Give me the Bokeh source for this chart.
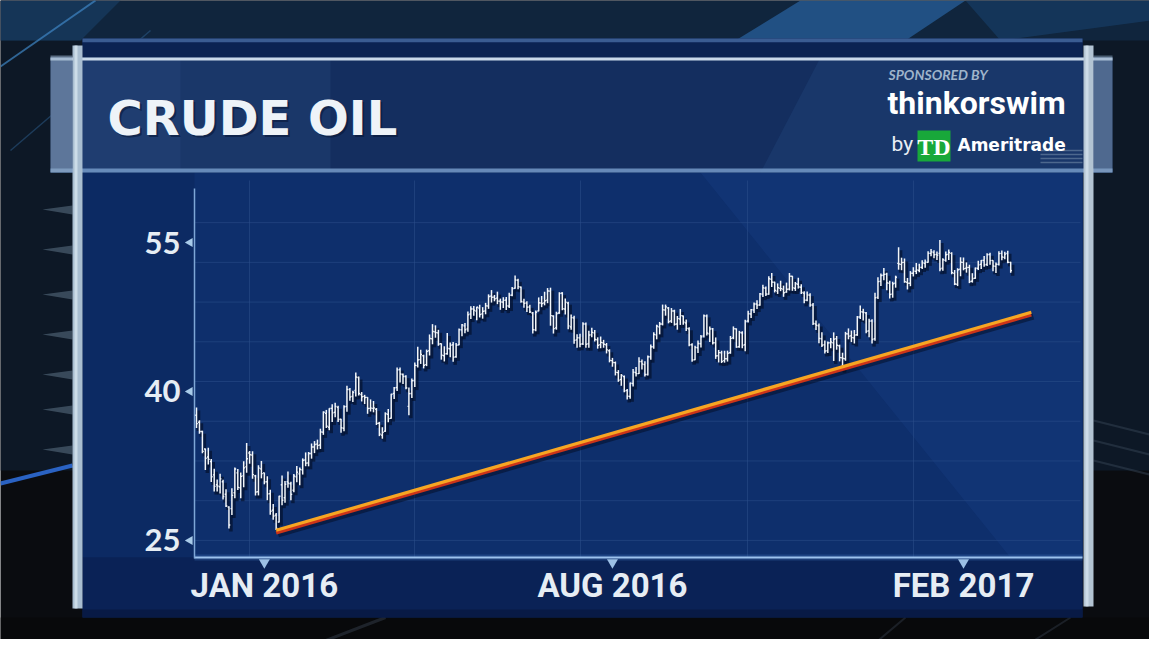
import math
from bokeh.plotting import figure
from bokeh.models import Range1d, LinearAxis, FixedTicker, ColumnDataSource
from bokeh.core.properties import value
from bokeh.embed import file_html
from bokeh.resources import INLINE

# ---------------- data (daily WTI bars) ----------------
opens = [
    37.60, 36.90, 35.97, 34.20, 33.40, 32.94, 31.60, 30.60, 30.40, 30.90, 29.65, 28.35, 28.20, 29.80, 31.80, 30.30, 31.50, 32.40, 33.80,
    33.60, 31.50, 29.90, 32.20, 31.80, 30.90, 29.70, 28.05, 27.55, 26.85, 30.60, 29.30, 30.90, 30.70, 30.05, 31.40, 31.70, 32.10, 33.10, 32.80,
    33.75, 34.40, 34.70, 34.60, 35.90, 37.80, 36.40, 38.30, 37.90, 38.40, 37.20, 36.30, 38.50, 40.20, 39.50, 40.10, 41.40, 39.70, 39.50, 39.40, 38.30, 38.30,
    38.20, 36.80, 35.60, 36.00, 37.70, 37.30, 39.80, 40.40, 42.20, 41.70, 41.50, 38.50, 39.80, 41.10, 42.60, 43.20, 43.60, 42.70, 44.10, 45.30, 46.00,
    45.90, 44.80, 43.60, 43.80, 44.30, 44.70, 43.50, 44.70, 46.20, 46.60, 46.30, 47.80, 48.30, 48.10, 48.40, 47.80, 48.10, 48.60, 49.60, 49.50, 49.40,
    49.10, 49.00, 49.20, 48.60, 49.70, 50.40, 51.20, 50.50, 49.00, 48.90, 48.50, 47.90, 46.20, 48.10, 48.90, 48.90, 49.20, 50.10, 47.60, 46.40, 47.90, 49.90,
    48.30, 48.90, 46.50, 47.40, 45.20, 45.40, 44.80, 46.80, 44.80, 45.70, 45.90, 45.20, 44.70, 44.90, 44.70, 44.10, 43.10, 42.90, 41.90, 41.20,
    41.50, 40.10, 39.50, 40.80, 41.90, 41.80, 43.00, 42.70, 41.70, 43.50, 44.50, 45.70, 46.50, 46.80, 48.20, 48.40, 47.10, 48.10, 46.80, 47.30, 47.60, 46.90, 46.30,
    44.70, 43.20, 44.40, 44.80, 45.60, 47.60, 45.80, 46.30, 44.90, 43.60, 43.90, 43.10, 43.30, 43.90, 45.40, 46.30, 44.50, 45.90, 44.70, 47.10, 47.80,
    48.20, 48.80, 48.70, 49.80, 50.40, 49.80, 51.30, 51.00, 50.10, 50.40, 50.30, 50.00, 50.30, 51.60, 50.40, 50.80, 50.50, 49.90, 49.20, 49.70, 48.70,
    46.80, 46.60, 45.30, 44.70, 44.10, 44.90, 44.90, 45.30, 44.60, 43.40, 43.30, 45.80, 45.60, 45.40, 45.70, 47.50, 48.00, 47.90, 46.10, 47.10, 45.30,
    49.50, 51.10, 51.70, 51.80, 50.90, 49.80, 50.90, 52.90, 52.80, 53.00, 51.00, 50.90, 51.90, 52.10, 52.20, 52.50, 52.90, 53.00, 53.90, 54.00, 53.80,
    53.90, 52.40, 53.20, 53.80, 53.90, 51.90, 50.80, 52.30, 53.00, 52.40, 52.50, 51.10, 51.40, 52.40, 52.80, 53.20, 52.80, 53.80, 53.20, 52.60,
    52.80, 53.90, 53.50, 53.90, 53.00,
]
highs = [
    38.39, 37.10, 36.04, 34.26, 34.34, 33.20, 32.21, 31.14, 31.70, 31.10, 30.15, 28.45, 30.25, 32.35, 32.19, 31.84, 32.98, 34.82, 34.00,
    33.97, 31.60, 32.57, 33.00, 31.83, 31.46, 30.10, 28.67, 27.75, 29.50, 31.53, 30.98, 31.93, 30.90, 31.68, 32.50, 32.35, 33.26, 33.86, 33.90,
    34.76, 35.00, 35.15, 36.25, 38.00, 38.14, 38.32, 38.70, 38.87, 38.56, 37.24, 38.60, 40.57, 40.35, 40.06, 41.90, 41.50, 39.94, 39.66, 39.42, 39.20, 39.04,
    38.33, 36.94, 36.40, 37.90, 38.24, 39.76, 40.46, 42.40, 42.41, 41.82, 41.64, 40.40, 41.30, 42.91, 44.49, 44.20, 43.70, 44.22, 45.74, 46.78, 46.66,
    46.21, 44.84, 44.55, 45.88, 44.93, 44.97, 44.88, 46.33, 46.80, 46.89, 48.04, 48.59, 48.60, 48.54, 48.73, 48.49, 48.92, 49.78, 50.21, 49.72, 50.05,
    49.35, 49.49, 49.52, 49.93, 50.53, 51.67, 51.34, 50.57, 49.33, 49.08, 48.72, 48.01, 48.15, 49.47, 49.61, 50.04, 50.41, 50.45, 47.66, 48.03, 49.99, 50.00,
    49.35, 49.04, 47.75, 47.63, 45.75, 45.80, 46.96, 46.95, 46.12, 46.41, 46.20, 45.45, 45.53, 45.20, 44.88, 44.25, 43.38, 43.02, 42.15, 41.75,
    41.60, 40.25, 40.90, 42.25, 42.46, 43.45, 43.22, 43.05, 43.62, 44.72, 45.96, 46.72, 47.00, 48.75, 48.75, 48.50, 48.40, 48.23, 47.60, 48.30, 47.66, 47.25, 46.46,
    44.85, 44.61, 45.14, 45.68, 47.75, 47.76, 46.55, 46.38, 45.44, 44.18, 44.10, 44.10, 44.11, 45.59, 46.55, 46.35, 46.10, 46.06, 47.21, 48.12, 48.30,
    48.95, 49.18, 49.91, 50.74, 50.57, 51.60, 51.93, 51.05, 50.88, 51.15, 50.66, 50.96, 51.93, 51.64, 51.03, 51.45, 50.79, 50.08, 50.07, 49.90, 48.90,
    47.14, 46.84, 45.95, 45.14, 45.02, 45.39, 45.95, 45.59, 44.71, 43.90, 46.00, 46.35, 46.13, 46.19, 47.60, 48.65, 48.33, 48.00, 47.32, 47.26, 49.93,
    51.50, 51.87, 52.42, 51.95, 51.15, 51.05, 51.66, 54.51, 53.47, 53.39, 51.43, 52.12, 52.51, 52.94, 52.86, 53.20, 53.29, 54.12, 54.35, 54.21, 54.09,
    55.24, 53.42, 54.09, 54.30, 54.03, 52.23, 52.41, 53.51, 53.49, 53.00, 52.76, 51.91, 52.48, 53.15, 53.24, 53.63, 53.93, 53.96, 53.22, 52.98,
    54.13, 54.20, 54.06, 54.16, 53.06,
]
lows = [
    36.33, 35.74, 33.77, 32.10, 32.65, 30.88, 29.93, 29.93, 29.73, 29.13, 28.36, 26.19, 27.56, 29.25, 30.07, 29.25, 30.36, 31.81, 32.72,
    31.20, 29.52, 29.53, 31.25, 30.65, 29.05, 27.58, 27.08, 26.05, 26.80, 28.55, 28.80, 30.31, 29.05, 29.85, 30.86, 30.56, 31.63, 32.47, 32.46,
    33.23, 33.79, 34.16, 34.21, 35.63, 36.32, 36.10, 36.92, 37.40, 36.92, 35.84, 35.98, 37.96, 39.06, 38.95, 39.50, 39.60, 38.99, 38.73, 37.75, 37.98, 37.90,
    36.62, 35.50, 35.24, 35.93, 36.91, 37.26, 39.25, 40.04, 40.91, 40.75, 40.22, 37.61, 39.34, 40.44, 42.40, 42.77, 42.32, 42.55, 43.62, 44.75, 45.41,
    44.60, 43.20, 43.02, 43.70, 43.45, 42.98, 43.39, 44.66, 45.55, 45.85, 46.01, 47.29, 47.62, 47.16, 47.45, 47.33, 47.77, 48.32, 48.95, 49.08, 48.79,
    48.22, 48.40, 48.19, 48.40, 49.58, 50.35, 50.29, 48.93, 48.43, 47.99, 47.90, 45.83, 46.06, 48.07, 48.49, 48.67, 48.89, 46.62, 45.83, 46.22, 47.82, 48.18,
    47.75, 46.26, 46.21, 44.80, 44.40, 44.45, 44.68, 44.41, 44.40, 45.46, 45.02, 44.31, 44.35, 44.40, 43.83, 42.93, 42.49, 41.61, 40.97, 40.57,
    39.92, 39.19, 39.26, 40.50, 41.50, 41.75, 42.21, 41.50, 41.60, 43.20, 44.30, 45.25, 45.75, 46.65, 47.63, 46.86, 46.90, 46.63, 46.22, 46.70, 46.72, 46.08, 44.56,
    43.00, 43.13, 43.87, 44.42, 45.44, 45.64, 44.97, 44.73, 43.28, 42.92, 42.86, 42.90, 43.01, 43.80, 45.26, 44.40, 44.40, 44.35, 44.05, 46.95, 47.40,
    47.90, 48.30, 48.64, 49.50, 49.61, 49.75, 50.52, 49.97, 49.82, 50.10, 49.53, 49.94, 50.17, 50.13, 50.12, 50.36, 49.81, 48.87, 49.08, 48.53, 46.68,
    46.20, 44.86, 44.48, 43.83, 43.87, 44.36, 43.07, 44.20, 43.03, 42.20, 43.09, 45.25, 44.97, 44.83, 45.60, 47.30, 47.15, 45.85, 45.46, 44.82, 45.10,
    49.30, 50.62, 51.20, 50.20, 49.37, 49.44, 50.45, 52.26, 52.21, 50.95, 50.27, 50.60, 51.58, 51.82, 52.01, 52.33, 52.46, 52.95, 53.61, 53.42, 53.24,
    52.11, 52.15, 53.07, 53.23, 51.80, 50.71, 50.61, 51.60, 52.20, 51.96, 50.91, 50.96, 51.34, 52.22, 52.33, 52.56, 52.63, 52.75, 52.10, 51.93,
    52.68, 53.22, 53.31, 52.90, 51.95,
]
closes = [
    36.76, 35.97, 33.97, 33.27, 33.16, 31.41, 30.44, 30.48, 31.20, 29.42, 28.46, 26.55, 29.53, 32.19, 30.34, 31.45, 32.30, 33.22, 33.62,
    31.62, 29.88, 32.28, 31.72, 30.89, 29.69, 27.94, 27.45, 26.21, 29.44, 29.04, 30.66, 30.77, 29.64, 31.48, 31.87, 32.15, 33.07, 32.78, 33.75,
    34.40, 34.66, 34.57, 35.92, 37.90, 36.50, 38.29, 37.84, 38.50, 37.18, 36.34, 38.46, 40.20, 39.44, 39.91, 41.45, 39.79, 39.46, 39.39, 38.28, 38.32, 38.34,
    36.79, 35.70, 35.89, 37.75, 37.26, 39.72, 40.36, 42.17, 41.76, 41.50, 40.36, 39.78, 41.08, 42.63, 43.18, 43.73, 42.64, 44.04, 45.33, 46.03, 45.92,
    44.78, 43.65, 43.78, 44.32, 44.66, 43.44, 44.66, 46.23, 46.70, 46.21, 47.72, 48.31, 48.19, 48.49, 47.75, 48.08, 48.62, 49.56, 49.48, 49.33, 49.10,
    49.01, 49.17, 48.62, 49.69, 50.36, 51.23, 50.56, 49.07, 48.88, 48.49, 48.01, 46.21, 47.98, 48.92, 48.85, 49.13, 50.11, 47.64, 46.33, 47.85, 49.88, 48.33,
    48.99, 46.60, 47.43, 45.14, 45.41, 44.76, 46.80, 44.75, 45.68, 45.95, 45.24, 44.65, 44.94, 44.75, 44.19, 43.13, 42.92, 41.92, 41.14, 41.60,
    40.06, 39.51, 40.83, 41.93, 41.80, 43.02, 42.77, 41.71, 43.49, 44.49, 45.74, 46.58, 46.79, 48.22, 48.52, 47.05, 48.10, 46.77, 47.33, 47.64, 46.98, 46.35, 44.70,
    43.16, 44.44, 44.83, 45.50, 47.62, 45.88, 46.29, 44.90, 43.58, 43.91, 43.03, 43.30, 43.85, 45.34, 46.32, 44.48, 45.93, 44.67, 47.05, 47.83, 48.24,
    48.81, 48.69, 49.83, 50.44, 49.81, 51.35, 51.01, 50.18, 50.44, 50.35, 49.94, 50.29, 51.60, 50.43, 50.85, 50.52, 49.96, 49.18, 49.72, 48.70, 46.86,
    46.67, 45.34, 44.66, 44.07, 44.89, 44.98, 45.27, 44.66, 43.41, 43.32, 45.81, 45.57, 45.42, 45.69, 47.49, 48.03, 47.96, 46.06, 47.08, 45.23, 49.44,
    51.06, 51.68, 51.79, 50.93, 49.77, 50.84, 51.50, 52.83, 52.98, 51.04, 50.90, 51.90, 52.12, 52.23, 52.49, 52.95, 53.02, 53.90, 54.06, 53.77, 53.72,
    52.33, 53.26, 53.76, 53.99, 51.96, 50.82, 52.25, 53.01, 52.37, 52.48, 51.08, 51.37, 52.42, 52.75, 53.18, 52.75, 53.78, 53.17, 52.63, 52.81,
    53.88, 53.54, 53.83, 53.01, 52.17,
]
y_ticks = [25, 40, 55]
x_ticks = [23, 141, 260]                      # bar index under each date tick
x_tick_labels = ["JAN 2016", "AUG 2016", "FEB 2017"]
trend_idx = [27, 283]
trend_price = [25.9, 47.85]
grid_prices = [25, 29, 33, 37, 41, 45, 49, 53, 57]

assert len(opens) == len(highs) == len(lows) == len(closes)

# ---------------- geometry (reference pixels) ----------------
W, H = 1149, 639
OFF = 0                         # canvas px 0 == reference px 0
X_BAR0, X_STEP = 196.0, 2.95    # x of first bar, px per bar
Y_55, Y_PER = 242.0, 9.93       # y of price 55, px per dollar


def px_to_idx(px):
    return (px - X_BAR0) / X_STEP


def py_to_price(py):
    return 55 - (py - Y_55) / Y_PER


def idx_range(dx=0):
    return Range1d(px_to_idx(OFF - dx), px_to_idx(OFF + W - dx))


def price_range(dy=0):
    return Range1d(py_to_price(OFF + H - dy), py_to_price(OFF - dy))


p = figure(width=W, height=H, x_range=Range1d(OFF, OFF + W), y_range=Range1d(OFF + H, OFF),
           x_axis_type=None, y_axis_type=None, toolbar_location=None,
           output_backend="svg", min_border=0)
p.outline_line_color = None
p.background_fill_color = "#0a0c10"
p.border_fill_color = "#0a0c10"
p.extra_x_ranges = {"idx": idx_range(), "idx_sh": idx_range(2)}
p.extra_y_ranges = {"price": price_range(), "price_sh": price_range(3),
                    "price_up": price_range(-1.2), "price_dn": price_range(1.3)}


def rect(x0, y0, x1, y1, color, alpha=1.0):
    p.quad(left=[x0], right=[x1], top=[y0], bottom=[y1], fill_color=color,
           fill_alpha=alpha, line_color=None)


def poly(xs, ys, color, alpha=1.0):
    p.patch(xs, ys, fill_color=color, fill_alpha=alpha, line_color=None)


def ln(xs, ys, color, width=1.0, alpha=1.0):
    p.line(xs, ys, line_color=color, line_width=width, line_alpha=alpha)


# ---------------- studio background ----------------
rect(0, 0, 1165, 470, "#0d1826")
rect(0, 0, 1165, 40, "#10253d")
poly([800, 965, 905, 735], [0, 0, 40, 40], "#24588f", 0.85)
poly([965, 1165, 1165, 1000], [0, 0, 18, 40], "#15375c", 0.9)
poly([0, 120, 80, 0], [0, 0, 40, 40], "#173a5e", 0.8)
ln([0, 95], [66, 0], "#3f86c4", 2, 0.7)
ln([10, 150], [150, 30], "#2d5f8f", 1.5, 0.5)
for fy in [205, 245, 290, 330, 370, 405, 445]:
    poly([72, 42, 72], [fy, fy + 4, fy + 9], "#5d7285", 0.55)
ln([0, 72], [483, 465], "#2e6bd6", 4, 0.9)
for ry in [420, 440, 460]:
    ln([1093, 1165], [ry, ry + 18], "#3a4a5c", 2, 0.45)
rect(0, 617, 1165, 655, "#08090b")
ln([320, 385], [642, 617], "#3a4452", 3, 0.45)
ln([860, 905], [655, 617], "#3a4452", 2, 0.4)
ln([1010, 1070], [655, 617], "#3a4452", 2, 0.4)

# ---------------- main panel ----------------
rect(82, 38, 1082, 617, "#0a2257")
rect(82, 38, 1082, 42, "#3a5c92")
rect(82, 42, 1082, 57, "#0b2352")
rect(82, 172, 1082, 557, "#0c2a63")
rect(194, 172, 1082, 557, "#0e2f6c")
poly([700, 1082, 1082, 1010], [172, 172, 557, 557], "#133677", 0.8)
rect(82, 557, 1082, 609, "#0a2256")
rect(82, 609, 1082, 617, "#081a45")

# title bar
rect(50, 57, 1112, 172, "#142e5f")
rect(82, 57, 330, 172, "#2a4c82", 0.3)
rect(82, 57, 180, 172, "#2a4c82", 0.3)
poly([760, 820, 1082, 1082], [172, 57, 57, 172], "#1d3f76", 0.5)
rect(50, 57, 1112, 60, "#c9d9ea")
rect(50, 168, 1112, 172, "#6f93c2", 0.9)
# glass caps and pillars
rect(50, 55, 72, 172, "#8da6c2", 0.6)
rect(72, 45, 82, 608, "#a9bed1")
rect(74, 45, 77, 608, "#d5e3ee", 0.8)
rect(1093, 55, 1112, 172, "#8aa3bf", 0.5)
rect(1083, 45, 1093, 606, "#b3c4d3")
rect(1085, 45, 1088, 606, "#d8e5ef", 0.7)
for sy in [150, 154, 158, 162]:
    ln([1040, 1082], [sy, sy], "#8ea4bb", 1.5, 0.45)

# ---------------- grid ----------------
p.segment(x0=[px_to_idx(194)] * len(grid_prices), y0=grid_prices,
          x1=[px_to_idx(1080)] * len(grid_prices), y1=grid_prices,
          x_range_name="idx", y_range_name="price",
          line_color="#2b4f8a", line_alpha=0.55, line_width=1)
for gx in [249, 414, 580, 747, 913]:
    ln([gx, gx], [180, 557], "#2b4f8a", 1, 0.55)

# axis glow
rect(194, 554, 1082, 560, "#3d6db3", 0.35)

# ---------------- bars ----------------
idx = list(range(len(closes)))
src = ColumnDataSource(dict(i=idx, o=opens, h=highs, l=lows, c=closes,
                            il=[k - 0.45 for k in idx], ir=[k + 0.45 for k in idx]))
p.segment(x0="i", y0="l", x1="i", y1="h", source=src, x_range_name="idx_sh",
          y_range_name="price_sh", line_color="#020b22", line_alpha=0.6, line_width=3.5)
p.segment(x0="i", y0="l", x1="i", y1="h", source=src, x_range_name="idx",
          y_range_name="price", line_color="#f2f6fa", line_width=1.5)
p.segment(x0="il", y0="o", x1="i", y1="o", source=src, x_range_name="idx",
          y_range_name="price", line_color="#f2f6fa", line_width=1.4)
p.segment(x0="i", y0="c", x1="ir", y1="c", source=src, x_range_name="idx",
          y_range_name="price", line_color="#f2f6fa", line_width=1.4)

# ---------------- trend line ----------------
p.line(trend_idx, trend_price, x_range_name="idx_sh", y_range_name="price_sh",
       line_color="#020b22", line_alpha=0.5, line_width=6)
p.line(trend_idx, trend_price, x_range_name="idx", y_range_name="price_dn",
       line_color="#cc3419", line_width=3.4)
p.line(trend_idx, trend_price, x_range_name="idx", y_range_name="price_up",
       line_color="#f7a623", line_width=3.2)

# ---------------- axes ----------------
yax = LinearAxis(x_range_name="idx", y_range_name="price",
                 fixed_location=px_to_idx(194),
                 bounds=(py_to_price(558), py_to_price(188)),
                 ticker=FixedTicker(ticks=y_ticks),
                 major_tick_out=0, major_tick_in=0, minor_tick_out=0, minor_tick_in=0,
                 axis_line_color="#7ea6d6", axis_line_width=1.5,
                 major_label_standoff=14,
                 major_label_text_font="Lato", major_label_text_font_style="bold",
                 major_label_text_font_size="31px", major_label_text_color="#e6edf4")
p.add_layout(yax, "left")

xax = LinearAxis(x_range_name="idx", y_range_name="price",
                 fixed_location=py_to_price(557),
                 bounds=(px_to_idx(194), px_to_idx(1082)),
                 ticker=FixedTicker(ticks=x_ticks),
                 major_label_overrides={t: s for t, s in zip(x_ticks, x_tick_labels)},
                 major_tick_out=0, major_tick_in=0, minor_tick_out=0, minor_tick_in=0,
                 axis_line_color="#9cc2ee", axis_line_width=2,
                 major_label_standoff=8,
                 major_label_text_font="Roboto", major_label_text_font_style="bold",
                 major_label_text_font_size="33px", major_label_text_color="#e6edf4")
p.add_layout(xax, "below")

p.scatter(x=[px_to_idx(189.5)] * len(y_ticks), y=y_ticks, marker="triangle",
          angle=math.pi / 2, size=9, fill_color="#a8cbe9", line_color=None,
          x_range_name="idx", y_range_name="price")
p.scatter(x=x_ticks, y=[py_to_price(562)] * len(x_ticks), marker="inverted_triangle",
          size=11, fill_color="#9cc0e6", line_color=None,
          x_range_name="idx", y_range_name="price")

# ---------------- texts (y = visual centre of the glyphs) ----------------
p.text(x=[109], y=[119], text=["CRUDE OIL"], text_font=value("DejaVu Sans"),
       text_font_style="bold", text_font_size="48px", text_color="#061433",
       text_alpha=0.55, text_baseline="alphabetic")
p.text(x=[107], y=[117], text=["CRUDE OIL"], text_font=value("DejaVu Sans"),
       text_font_style="bold", text_font_size="48px", text_color="#eef3f8",
       text_baseline="alphabetic")
p.text(x=[888], y=[74], text=["SPONSORED BY"], text_font=value("Lato"),
       text_font_style="bold italic", text_font_size="14px", text_color="#9fb4cb",
       text_baseline="alphabetic")
p.text(x=[887], y=[102], text=["thinkorswim"], text_font=value("Roboto"),
       text_font_style="bold", text_font_size="32px", text_color="#ffffff",
       text_baseline="alphabetic")
p.text(x=[891], y=[143], text=["by"], text_font=value("Roboto"),
       text_font_size="21px", text_color="#e8eef4", text_baseline="alphabetic")
rect(917, 130, 950, 161, "#18a83a")
p.text(x=[933.5], y=[146], text=["TD"], text_font=value("Liberation Serif"),
       text_font_style="bold", text_font_size="24px", text_color="#ffffff",
       text_align="center", text_baseline="alphabetic")
p.text(x=[957], y=[144], text=["Ameritrade"], text_font=value("DejaVu Sans"),
       text_font_style="bold", text_font_size="17px", text_color="#ffffff",
       text_baseline="alphabetic")

open("out.html", "w").write(file_html(p, INLINE))
